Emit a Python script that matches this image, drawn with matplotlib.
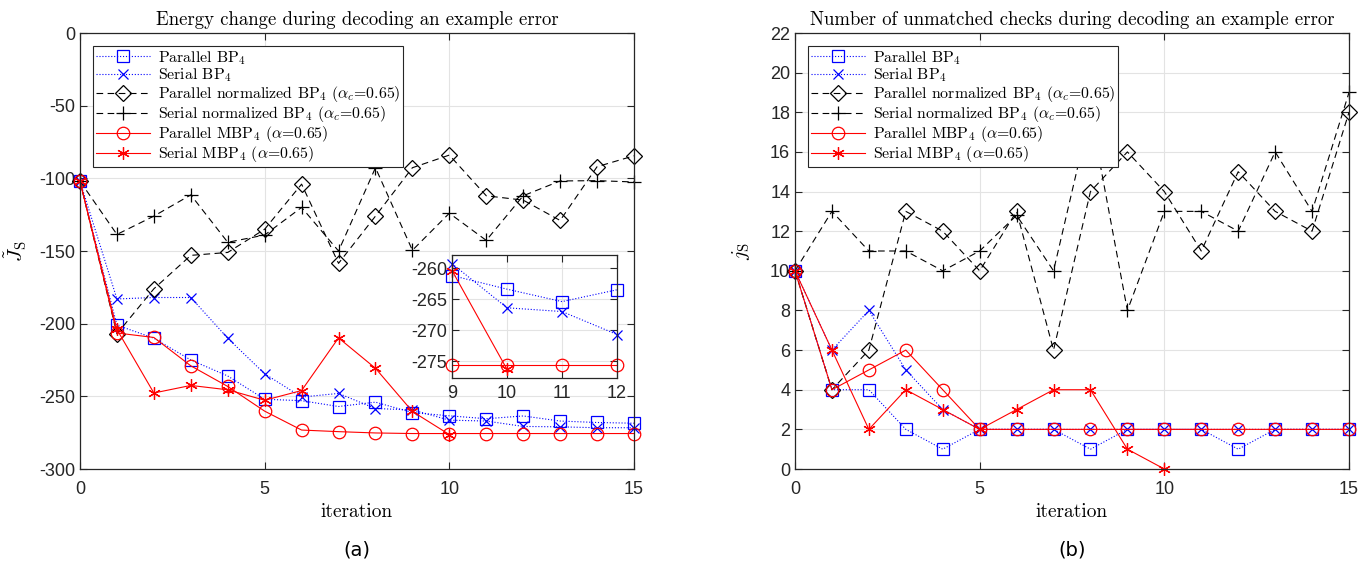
import numpy as np
import matplotlib
matplotlib.use('Agg')
import matplotlib.pyplot as plt

plt.rcParams['font.family'] = ['cmr10', 'DejaVu Serif']
plt.rcParams['mathtext.fontset'] = 'cm'
plt.rcParams['axes.unicode_minus'] = False
plt.rcParams['axes.formatter.use_mathtext'] = False

# ============================================================================
# DATOS
# ============================================================================
iters = np.arange(16)
iters_smbp = np.arange(11)
iters_inset = np.arange(9, 13)

# (a) energia
e_par_bp = [-102, -201, -210, -225, -236, -252, -253, -257, -254, -261.2, -263.4, -265.4, -263.5, -267, -268, -268.5]
e_ser_bp = [-102, -183, -182, -182, -210, -234.5, -250.5, -248, -258.4, -259.3, -266.4, -267.0, -270.7, -271, -271.6, -271.6]
e_par_nbp = [-102, -207, -176, -153, -151, -135, -104, -158.5, -126, -92.7, -84, -112, -115, -129, -92, -84.5]
e_ser_nbp = [-102, -138.6, -126, -111.4, -144, -139, -120, -150, -92.7, -149.5, -124, -142.7, -112, -101.8, -101.6, -102.5]
e_par_mbp = [-102, -206.4, -209.5, -229, -243.2, -260.2, -273.2, -274.3, -275.2, -275.6, -275.6, -275.6, -275.6, -275.6, -275.6, -275.6]
e_ser_mbp = [-102, -204, -247.7, -242.5, -245.5, -252.7, -246, -209.8, -230.7, -260.4, -276.3]

# (b) checks sin emparejar
c_par_bp = [10, 4, 4, 2, 1, 2, 2, 2, 1, 2, 2, 2, 1, 2, 2, 2]
c_ser_bp = [10, 6, 8, 5, 3, 2, 2, 2, 2, 2, 2, 2, 2, 2, 2, 2]
c_par_nbp = [10, 4, 6, 13, 12, 10, 13, 6, 14, 16, 14, 11, 15, 13, 12, 18]
c_ser_nbp = [10, 13, 11, 11, 10, 11, 12.8, 10, 18, 8, 13, 13, 12, 16, 13, 19]
c_par_mbp = [10, 4, 5, 6, 4, 2, 2, 2, 2, 2, 2, 2, 2, 2, 2, 2]
c_ser_mbp = [10, 6, 2, 4, 3, 2, 3, 4, 4, 1, 0]

labels = ['Parallel BP$_4$', 'Serial BP$_4$',
          r'Parallel normalized BP$_4$ ($\alpha_c$=0.65)',
          r'Serial normalized BP$_4$ ($\alpha_c$=0.65)',
          r'Parallel MBP$_4$ ($\alpha$=0.65)',
          r'Serial MBP$_4$ ($\alpha$=0.65)']

styles = [
    dict(color='blue', ls=':', marker='s', mfc='none', ms=8, lw=0.8, mew=0.9),
    dict(color='blue', ls=':', marker='x', ms=7, lw=0.8, mew=0.9),
    dict(color='black', ls=(0, (6, 4)), marker='D', mfc='none', ms=8, lw=0.8, mew=0.9),
    dict(color='black', ls=(0, (6, 4)), marker='+', ms=10, lw=0.8, mew=0.9),
    dict(color='red', ls='-', marker='o', mfc='none', ms=9, lw=0.8, mew=0.9),
    dict(color='red', ls='-', marker=(6, 2, 0), ms=9, lw=0.8, mew=0.9),
]

W, H = 1372, 561
fig = plt.figure(figsize=(W / 100, H / 100), dpi=100)

ax_col = '#262626'
grid_col = '#e3e3e3'


def style_axes(ax, sans_size=13, xpad=9):
    ax.grid(True, color=grid_col, lw=0.8)
    ax.set_axisbelow(True)
    for s in ax.spines.values():
        s.set_color(ax_col)
        s.set_linewidth(0.9)
    ax.tick_params(direction='in', top=True, right=True, colors=ax_col,
                   length=5, width=0.8, labelsize=sans_size)
    ax.tick_params(axis='x', pad=xpad)
    for t in ax.get_xticklabels() + ax.get_yticklabels():
        t.set_family('Liberation Sans')


def panel(ax, series, iters_list):
    for y, it, st, lb in zip(series, iters_list, styles, labels):
        ax.plot(it, y, label=lb, **st)
    leg = ax.legend(loc='upper left', fancybox=False, framealpha=1, edgecolor=ax_col,
                    fontsize=11.4, handlelength=3.4, borderaxespad=0.8,
                    labelspacing=0.0, borderpad=0.2, handletextpad=0.5)
    leg.get_frame().set_linewidth(0.8)
    leg.set_zorder(20)


its = [iters, iters, iters, iters, iters, iters_smbp]

# (a)
ax1 = fig.add_axes([80 / W, 1 - 469 / H, 554 / W, 436 / H])
panel(ax1, [e_par_bp, e_ser_bp, e_par_nbp, e_ser_nbp, e_par_mbp, e_ser_mbp], its)
ax1.set_xlim(0, 15)
ax1.set_ylim(-300, 0)
ax1.set_xticks([0, 5, 10, 15])
ax1.set_yticks(np.arange(-300, 1, 50))
style_axes(ax1)
ax1.set_title('Energy change during decoding an example error', fontsize=13.5, pad=6)
ax1.set_xlabel('iteration', fontsize=14, labelpad=3)
ax1.set_ylabel(r'$\tilde{J}_{\mathrm{S}}$', fontsize=15)
ax1.yaxis.set_label_coords(-0.092, 0.5)

# inset
axi = fig.add_axes([452 / W, 1 - 378 / H, 165 / W, 123 / H])
inset_idx = slice(9, 13)
axi.plot(iters_inset, e_par_bp[inset_idx], **styles[0])
axi.plot(iters_inset, e_ser_bp[inset_idx], **styles[1])
axi.plot(iters_inset, e_par_mbp[inset_idx], **styles[4])
axi.plot(iters_smbp[9:], e_ser_mbp[9:], **styles[5])
axi.set_xlim(9, 12)
axi.set_ylim(-277.7, -257.9)
axi.set_xticks([9, 10, 11, 12])
axi.set_yticks([-275, -270, -265, -260])
style_axes(axi, 13, xpad=5)
axi.patch.set_facecolor('white')
for ln in axi.lines:
    ln.set_clip_on(False)

# (b)
ax2 = fig.add_axes([795 / W, 1 - 469 / H, 554 / W, 436 / H])
panel(ax2, [c_par_bp, c_ser_bp, c_par_nbp, c_ser_nbp, c_par_mbp, c_ser_mbp], its)
ax2.set_xlim(0, 15)
ax2.set_ylim(0, 22)
ax2.set_xticks([0, 5, 10, 15])
ax2.set_yticks(np.arange(0, 23, 2))
style_axes(ax2)
ax2.set_title('Number of unmatched checks during decoding an example error', fontsize=13.5, pad=6)
ax2.set_xlabel('iteration', fontsize=14, labelpad=3)
ax2.set_ylabel(r'$j_{\mathrm{S}}$', fontsize=15)
ax2.yaxis.set_label_coords(-0.078, 0.5)

for ax in (ax1, ax2):
    for ln in ax.lines:
        ln.set_clip_on(False)

fig.text(357 / W, 1 - 550 / H, '(a)', ha='center', va='center', fontsize=14, family='DejaVu Sans')
fig.text(1072 / W, 1 - 550 / H, '(b)', ha='center', va='center', fontsize=14, family='DejaVu Sans')

fig.savefig('out.png', dpi=100)
